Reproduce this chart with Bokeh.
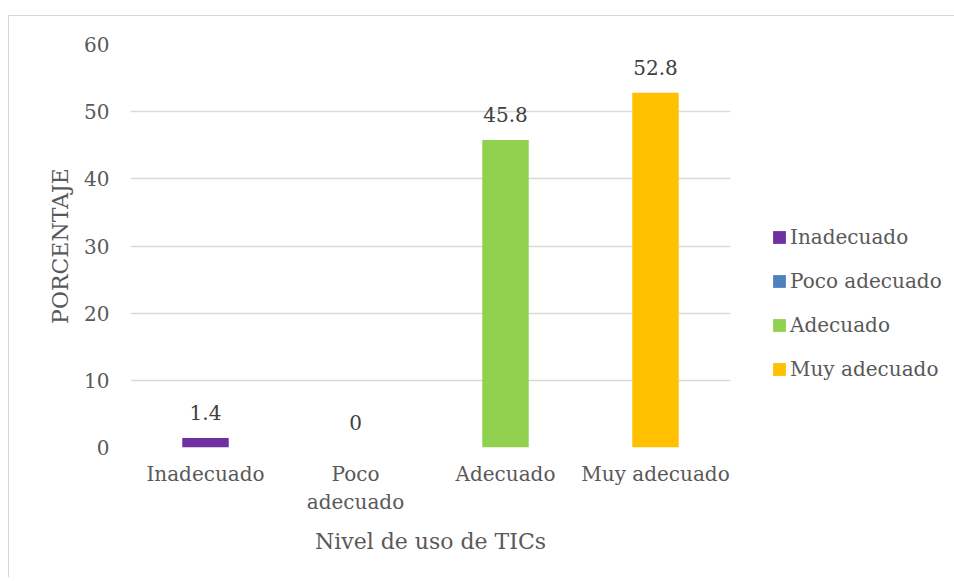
from bokeh.plotting import figure
from bokeh.models import ColumnDataSource, Range1d, FactorRange, LabelSet, Legend, LegendItem, FixedTicker
from bokeh.core.properties import value
from bokeh.embed import file_html
from bokeh.resources import INLINE

series = ["Inadecuado", "Poco adecuado", "Adecuado", "Muy adecuado"]
tick_labels = ["Inadecuado", "Poco\nadecuado", "Adecuado", "Muy adecuado"]
values = [1.4, 0, 45.8, 52.8]
value_labels = ["1.4", "0", "45.8", "52.8"]
colors = ["#7030A0", "#4F81BD", "#92D050", "#FFC000"]
y_ticks = [0, 10, 20, 30, 40, 50, 60]

FONT = "DejaVu Serif"
TXT = "#595959"

source = ColumnDataSource(dict(cat=tick_labels, val=values, lab=value_labels, color=colors))

p = figure(x_range=FactorRange(factors=tick_labels, range_padding=0), y_range=Range1d(0, 60),
           frame_width=600, frame_height=403,
           min_border_left=121, min_border_right=222, min_border_top=28, min_border_bottom=130,
           output_backend="svg", toolbar_location=None)
p.outline_line_color = None
p.styles = {"margin-left": "8px", "margin-top": "15px",
            "border-top": "1px solid #d6d6d6", "border-left": "1px solid #d6d6d6"}

r = p.vbar(x="cat", top="val", width=0.31, fill_color="color", line_color=None, source=source)

p.xgrid.grid_line_color = None
p.ygrid.grid_line_color = "#d9d9d9"
p.ygrid.grid_line_width = 1.3
p.yaxis.ticker = FixedTicker(ticks=y_ticks)

for ax in (p.xaxis[0], p.yaxis[0]):
    ax.axis_line_color = None
    ax.major_tick_line_color = None
    ax.minor_tick_line_color = None
    ax.major_label_text_font = FONT
    ax.major_label_text_font_size = "20px"
    ax.major_label_text_color = TXT
    ax.axis_label_text_font = FONT
    ax.axis_label_text_font_size = "22px"
    ax.axis_label_text_font_style = "normal"
    ax.axis_label_text_color = TXT

p.yaxis.axis_label = "PORCENTAJE"
p.yaxis.major_label_standoff = 15
p.yaxis.axis_label_standoff = 8
p.xaxis.axis_label = "Nivel de uso de TICs"
p.xaxis.major_label_standoff = 8
p.xaxis.axis_label_standoff = 12

labels = LabelSet(x="cat", y="val", text="lab", source=source, text_align="center",
                  text_baseline="alphabetic", y_offset=18,
                  text_font=value(FONT), text_font_size=value("20px"), text_color="#404040")
p.add_layout(labels)

items = [LegendItem(label=c, renderers=[r], index=i) for i, c in enumerate(series)]
legend = Legend(items=items, location=(41, 66), glyph_width=16, glyph_height=16,
                label_standoff=3, spacing=20, padding=0, margin=0,
                border_line_color=None, background_fill_alpha=0,
                label_text_font=FONT, label_text_font_size="20px", label_text_color=TXT)
p.add_layout(legend, "right")

open("out.html", "w").write(file_html(p, INLINE))
